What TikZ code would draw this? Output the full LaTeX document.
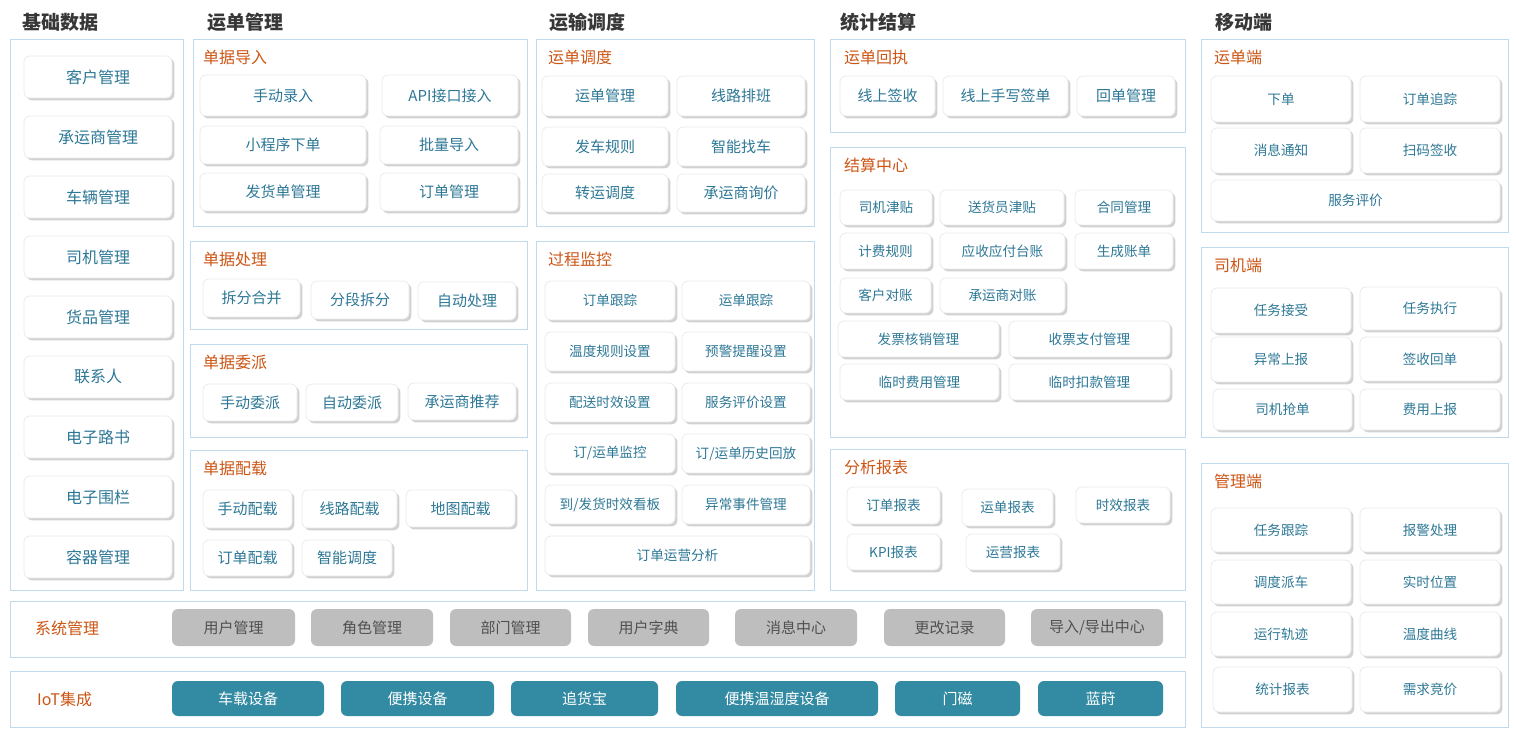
\documentclass[tikz,border=0pt]{standalone}
\usepackage{fontspec}
\setmainfont{Noto Sans CJK SC}
\usetikzlibrary{shadows}
\definecolor{pb}{RGB}{192,218,236}
\definecolor{tt}{RGB}{204,85,20}
\definecolor{bt}{RGB}{45,120,150}
\definecolor{gb}{RGB}{190,190,190}
\definecolor{gt}{RGB}{80,80,80}
\definecolor{ib}{RGB}{50,138,163}
\definecolor{hd}{RGB}{55,55,55}
\tikzset{
 panel/.style={draw=pb,line width=0.5pt},
 head/.style={anchor=west,text=hd,font=\fontsize{9.5}{10}\selectfont\bfseries},
 sub/.style={anchor=west,text=tt,font=\fontsize{8}{9}\selectfont},
 btn/.style={draw=black!8,fill=white,rounded corners=3pt,text=bt,inner sep=0pt,
   drop shadow={shadow xshift=1.2pt,shadow yshift=-1.2pt,opacity=.3,fill=black!60},
   font=\fontsize{7.5}{8}\selectfont},
 sbtn/.style={btn,font=\fontsize{6.8}{7}\selectfont},
 gbtn/.style={fill=gb,rounded corners=3pt,text=gt,inner sep=0pt,font=\fontsize{7.5}{8}\selectfont},
 ibtn/.style={fill=ib,rounded corners=3pt,text=white,inner sep=0pt,font=\fontsize{7.5}{8}\selectfont},
}
% #1 style, #2 x1, #3 y1, #4 x2, #5 y2, #6 text
\newcommand\bx[6]{\node[#1,minimum width={(#4-#2)*0.5pt},minimum height={(#5-#3)*0.5pt}] (n#2x#3) at ({(#2+#4)/2},{(#3+#5)/2}) {#6};}
\newcommand\pn[4]{\draw[panel] (#1,#2) rectangle (#3,#4);}
\begin{document}
\begin{tikzpicture}[x=0.5pt,y=-0.5pt]
\useasboundingbox (0,0) rectangle (1516,737);
% headings
\node[head] (h1) at (15,22) {基础数据};
\node[head] (h2) at (200,22) {运单管理};
\node[head] (h3) at (542,22) {运输调度};
\node[head] (h4) at (833,22) {统计结算};
\node[head] (h5) at (1208,22) {移动端};
% basic data
\pn{10}{40}{183}{590}
\foreach \t [count=\i from 0] in {客户管理,承运商管理,车辆管理,司机管理,货品管理,联系人,电子路书,电子围栏,容器管理}{
 \node[btn,font=\fontsize{8}{9}\selectfont,minimum width=74pt,minimum height=21pt] (bd\i) at (98,{77+60*\i}) {\t};}
% 单据导入
\pn{193}{40}{527}{227}
\node[sub] (s1) at (196,57) {单据导入};
\bx{btn}{200}{75}{366}{116}{手动录入}
\bx{btn}{382}{75}{518}{116}{API接口接入}
\bx{btn}{200}{126}{366}{164}{小程序下单}
\bx{btn}{380}{126}{518}{164}{批量导入}
\bx{btn}{200}{173}{366}{211}{发货单管理}
\bx{btn}{380}{173}{518}{211}{订单管理}
% 单据处理
\pn{190}{242}{527}{330}
\node[sub] (s2) at (196,259) {单据处理};
\bx{btn}{203}{279}{300}{317}{拆分合并}
\bx{btn}{311}{281}{409}{319}{分段拆分}
\bx{btn}{418}{282}{516}{320}{自动处理}
% 单据委派
\pn{190}{345}{527}{438}
\node[sub] (s3) at (196,362) {单据委派};
\bx{btn}{203}{384}{297}{421}{手动委派}
\bx{btn}{306}{384}{398}{421}{自动委派}
\bx{btn}{408}{383}{516}{420}{承运商推荐}
% 单据配载
\pn{190}{451}{527}{590}
\node[sub] (s4) at (196,468) {单据配载};
\bx{btn}{203}{490}{292}{528}{手动配载}
\bx{btn}{302}{490}{397}{528}{线路配载}
\bx{btn}{406}{490}{515}{527}{地图配载}
\bx{btn}{203}{540}{292}{576}{订单配载}
\bx{btn}{302}{540}{392}{576}{智能调度}
% 运单调度
\pn{536}{40}{814}{227}
\node[sub] (s5) at (541,57) {运单调度};
\bx{btn}{542}{76}{668}{116}{运单管理}
\bx{btn}{677}{76}{805}{116}{线路排班}
\bx{btn}{542}{127}{668}{166}{发车规则}
\bx{btn}{677}{127}{805}{166}{智能找车}
\bx{btn}{542}{174}{668}{212}{转运调度}
\bx{btn}{677}{174}{805}{212}{承运商询价}
% 过程监控
\pn{536}{242}{814}{590}
\node[sub] (s6) at (541,259) {过程监控};
\bx{sbtn}{545}{281}{675}{320}{订单跟踪}
\bx{sbtn}{682}{281}{810}{320}{运单跟踪}
\bx{sbtn}{545}{332}{675}{371}{温度规则设置}
\bx{sbtn}{682}{332}{810}{371}{预警提醒设置}
\bx{sbtn}{545}{383}{675}{422}{配送时效设置}
\bx{sbtn}{682}{383}{810}{422}{服务评价设置}
\bx{sbtn}{545}{434}{675}{473}{订/运单监控}
\bx{sbtn}{682}{434}{810}{473}{订/运单历史回放}
\bx{sbtn}{545}{485}{675}{524}{到/发货时效看板}
\bx{sbtn}{682}{485}{810}{524}{异常事件管理}
\bx{sbtn}{545}{536}{810}{575}{订单运营分析}
% 运单回执
\pn{830}{40}{1185}{133}
\node[sub] (s7) at (837,57) {运单回执};
\bx{btn}{840}{76}{935}{116}{线上签收}
\bx{btn}{943}{76}{1068}{116}{线上手写签单}
\bx{btn}{1077}{76}{1175}{116}{回单管理}
% 结算中心
\pn{830}{148}{1185}{438}
\node[sub] (s8) at (837,165) {结算中心};
\bx{sbtn}{840}{190}{932}{225}{司机津贴}
\bx{sbtn}{940}{190}{1064}{225}{送货员津贴}
\bx{sbtn}{1075}{190}{1173}{225}{合同管理}
\bx{sbtn}{840}{233}{931}{269}{计费规则}
\bx{sbtn}{940}{233}{1065}{269}{应收应付台账}
\bx{sbtn}{1075}{233}{1173}{269}{生成账单}
\bx{sbtn}{840}{278}{931}{313}{客户对账}
\bx{sbtn}{940}{278}{1065}{313}{承运商对账}
\bx{sbtn}{838}{321}{999}{357}{发票核销管理}
\bx{sbtn}{1009}{321}{1170}{357}{收票支付管理}
\bx{sbtn}{840}{364}{999}{400}{临时费用管理}
\bx{sbtn}{1009}{364}{1170}{400}{临时扣款管理}
% 分析报表
\pn{830}{450}{1185}{590}
\node[sub] (s9) at (837,467) {分析报表};
\bx{sbtn}{847}{487}{940}{524}{订单报表}
\bx{sbtn}{962}{489}{1053}{526}{运单报表}
\bx{sbtn}{1076}{487}{1170}{523}{时效报表}
\bx{sbtn}{847}{534}{940}{570}{KPI报表}
\bx{sbtn}{966}{534}{1060}{570}{运营报表}
% 系统管理
\pn{10}{601}{1185}{657}
\node[sub] (s10) at (28,628) {系统管理};
\bx{gbtn}{172}{609}{295}{646}{用户管理}
\bx{gbtn}{311}{609}{433}{646}{角色管理}
\bx{gbtn}{450}{609}{571}{646}{部门管理}
\bx{gbtn}{588}{609}{709}{646}{用户字典}
\bx{gbtn}{735}{609}{857}{646}{消息中心}
\bx{gbtn}{884}{609}{1005}{646}{更改记录}
\bx{gbtn}{1031}{609}{1163}{646}{导入/导出中心}
% IoT
\pn{10}{671}{1185}{727}
\node[sub] (s11) at (30,699) {IoT集成};
\bx{ibtn}{172}{681}{324}{716}{车载设备}
\bx{ibtn}{341}{681}{494}{716}{便携设备}
\bx{ibtn}{511}{681}{658}{716}{追货宝}
\bx{ibtn}{676}{681}{878}{716}{便携温湿度设备}
\bx{ibtn}{895}{681}{1020}{716}{门磁}
\bx{ibtn}{1038}{681}{1163}{716}{蓝莳}
% 运单端
\pn{1201}{40}{1508}{233}
\node[sub] (s12) at (1207,57) {运单端};
\bx{sbtn}{1211}{76}{1351}{122}{下单}
\bx{sbtn}{1360}{76}{1500}{122}{订单追踪}
\bx{sbtn}{1211}{128}{1351}{173}{消息通知}
\bx{sbtn}{1360}{128}{1500}{173}{扫码签收}
\bx{sbtn}{1211}{180}{1500}{221}{服务评价}
% 司机端
\pn{1201}{248}{1508}{438}
\node[sub] (s13) at (1207,265) {司机端};
\bx{sbtn}{1211}{288}{1351}{333}{任务接受}
\bx{sbtn}{1360}{287}{1500}{330}{任务执行}
\bx{sbtn}{1211}{337}{1351}{382}{异常上报}
\bx{sbtn}{1360}{337}{1500}{381}{签收回单}
\bx{sbtn}{1213}{389}{1352}{430}{司机抢单}
\bx{sbtn}{1360}{389}{1500}{430}{费用上报}
% 管理端
\pn{1201}{464}{1508}{727}
\node[sub] (s14) at (1207,481) {管理端};
\bx{sbtn}{1211}{508}{1351}{552}{任务跟踪}
\bx{sbtn}{1360}{508}{1500}{552}{报警处理}
\bx{sbtn}{1211}{560}{1351}{604}{调度派车}
\bx{sbtn}{1360}{560}{1500}{604}{实时位置}
\bx{sbtn}{1211}{612}{1351}{656}{运行轨迹}
\bx{sbtn}{1360}{612}{1500}{656}{温度曲线}
\bx{sbtn}{1213}{667}{1352}{712}{统计报表}
\bx{sbtn}{1360}{667}{1500}{712}{需求竞价}
\end{tikzpicture}
\end{document}
